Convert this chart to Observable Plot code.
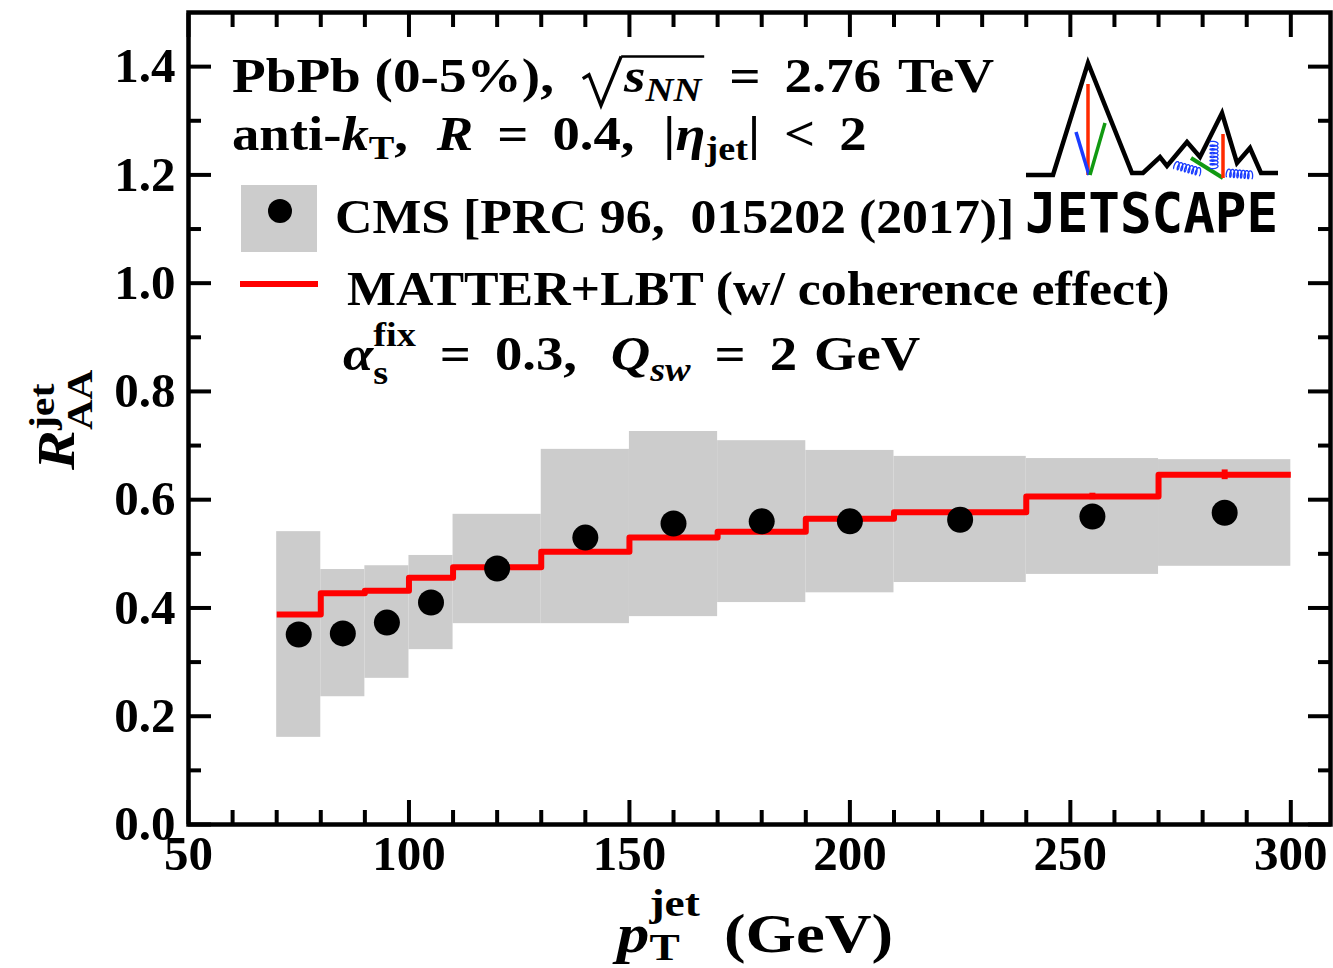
<!DOCTYPE html>
<html><head><meta charset="utf-8">
<script src="https://cdn.jsdelivr.net/npm/d3@7"></script>
<script src="https://cdn.jsdelivr.net/npm/@observablehq/plot@0.6"></script>
<style>html,body{margin:0;padding:0;background:#fff} svg{display:block}</style>
</head><body><div id="chart"></div>
<script>
// ---- data ----
const binLo   = [70, 80, 90, 100, 110, 130, 150, 170, 190, 210, 240, 270];
const binHi   = [80, 90, 100, 110, 130, 150, 170, 190, 210, 240, 270, 300];
const cmsX    = [75, 85, 95, 105, 120, 140, 160, 180, 200, 225, 255, 285];
const cmsY    = [0.351, 0.353, 0.373, 0.410, 0.473, 0.530, 0.556, 0.560, 0.560, 0.563, 0.569, 0.576];
const sysLow  = [0.161, 0.236, 0.270, 0.323, 0.371, 0.371, 0.384, 0.410, 0.428, 0.447, 0.462, 0.477];
const sysHigh = [0.541, 0.471, 0.478, 0.497, 0.573, 0.693, 0.726, 0.709, 0.691, 0.680, 0.676, 0.674];
const modelY  = [0.388, 0.427, 0.432, 0.456, 0.475, 0.504, 0.530, 0.541, 0.565, 0.577, 0.606, 0.646];
const modelErr= [0.002, 0.002, 0.002, 0.002, 0.002, 0.002, 0.002, 0.003, 0.003, 0.004, 0.006, 0.009];
const xMajor  = [50, 100, 150, 200, 250, 300];
const xMinor  = [60, 70, 80, 90, 110, 120, 130, 140, 160, 170, 180, 190, 210, 220, 230, 240, 260, 270, 280, 290];
const yMajor  = [0, 0.2, 0.4, 0.6, 0.8, 1.0, 1.2, 1.4];
const yMinor  = [0.1, 0.3, 0.5, 0.7, 0.9, 1.1, 1.3];

const bins = binLo.map((lo, i) => ({lo, hi: binHi[i], low: sysLow[i], high: sysHigh[i],
  m: modelY[i], e: modelErr[i], x: cmsX[i], y: cmsY[i]}));
const steps = bins.flatMap(b => [{x: b.lo, y: b.m}, {x: b.hi, y: b.m}]);

const TW = 4; // tick stroke
const ticks = [];
for (const a of ["bottom", "top"]) {
  ticks.push(Plot.axisX(xMinor, {anchor: a, tickSize: -14, fill: "none", strokeWidth: TW, label: null}));
  ticks.push(Plot.axisX(xMajor, {anchor: a, tickSize: -24, fill: "none", strokeWidth: TW, label: null}));
}
for (const a of ["left", "right"]) {
  ticks.push(Plot.axisY(yMinor, {anchor: a, tickSize: -13, fill: "none", strokeWidth: TW, label: null}));
  ticks.push(Plot.axisY(yMajor, {anchor: a, tickSize: -23, fill: "none", strokeWidth: TW, label: null}));
}

const plot = Plot.plot({
  width: 1333, height: 968,
  marginLeft: 188, marginRight: 3, marginTop: 12, marginBottom: 144,
  style: {fontFamily: "'Liberation Serif', serif", fontWeight: "bold", fontSize: "49px", color: "#000", background: "#fff", overflow: "visible"},
  x: {domain: [50, 309], label: null},
  y: {domain: [0, 1.5], label: null},
  marks: [
    Plot.rect(bins, {x1: "lo", x2: "hi", y1: "low", y2: "high", fill: "#cccccc"}),
    Plot.line(steps, {x: "x", y: "y", stroke: "#ff0000", strokeWidth: 6, strokeLinecap: "butt", strokeLinejoin: "round"}),
    Plot.ruleX(bins, {x: "x", y1: d => d.m - d.e, y2: d => d.m + d.e, stroke: "#ff0000", strokeWidth: 6}),
    Plot.dot(bins, {x: "x", y: "y", r: 13, fill: "#000", stroke: null}),
    ...ticks,
    Plot.axisX(xMajor, {anchor: "bottom", tickSize: 0, tickPadding: 11, tickFormat: d => String(d), label: null}),
    Plot.axisY(yMajor, {anchor: "left", tickSize: 0, tickPadding: 13, tickFormat: d3.format(".1f"), label: null}),
    Plot.frame({stroke: "#000", strokeWidth: 4.5})
  ]
});
document.getElementById("chart").appendChild(plot);

// ---- math-style text helper ----
const svg = d3.select(plot);
const ann = svg.append("g").attr("font-family", "'Liberation Serif', serif").attr("font-weight", "bold")
  .attr("fill", "#000").attr("text-anchor", "start");

function mathLine(g, x, y, size, parts, sx = 1.08) {
  let cx = x;
  const put = (txt, px, py, fs, italic) => {
    const t = g.append("text")
      .attr("transform", `translate(${px},${py}) scale(${sx},1)`)
      .attr("text-anchor", "start")
      .attr("font-size", fs)
      .attr("font-style", italic ? "italic" : null)
      .style("white-space", "pre")
      .text(txt);
    return t.node().getComputedTextLength() * sx;
  };
  let radStart = null;
  for (const p of parts) {
    if (p.sp != null) { cx += p.sp * size; continue; }
    if (p.rad) {
      const s = size;
      g.append("path").attr("fill", "none").attr("stroke", "#000").attr("stroke-width", 0.07 * s)
        .attr("stroke-linejoin", "miter")
        .attr("d", `M${cx},${y - 0.28 * s} L${cx + 0.13 * s},${y - 0.36 * s} L${cx + 0.38 * s},${y + 0.28 * s} L${cx + 0.8 * s},${y - 0.74 * s}`);
      radStart = cx + 0.8 * s;
      cx = radStart + 0.06 * s;
      continue;
    }
    if (p.radEnd) {
      g.append("line").attr("x1", radStart).attr("x2", cx + 0.06 * size)
        .attr("y1", y - 0.74 * size).attr("y2", y - 0.74 * size)
        .attr("stroke", "#000").attr("stroke-width", 0.055 * size);
      cx += 0.08 * size;
      continue;
    }
    if (p.t != null) cx += put(p.t, cx, y, size * (p.s || 1), p.i);
    if (p.sup != null || p.sub != null) {
      let w = 0;
      const ss = size * 0.7;
      if (p.sup != null) w = Math.max(w, put(p.sup, cx + (p.supdx || 0) * size, y - (p.supy ?? 0.45) * size, ss, p.supi));
      if (p.sub != null) w = Math.max(w, put(p.sub, cx + (p.subdx || 0) * size, y + (p.suby ?? 0.2) * size, ss, p.subi));
      cx += w;
    }
  }
  return cx;
}

const TS = 48;
const REL = 0.5; // space around relations
mathLine(ann, 232, 92, TS, [
  {t: "PbPb (0-5%),"}, {sp: 0.6}, {rad: true}, {t: "s", i: true}, {sub: "NN", subi: true, suby: 0.18}, {radEnd: true},
  {sp: REL}, {t: "="}, {sp: REL}, {t: "2.76"}, {sp: 0.35}, {t: "TeV"}
], 1.15);
mathLine(ann, 232, 150, TS, [
  {t: "anti-"}, {t: "k", i: true}, {sub: "T", suby: 0.18}, {t: ","}, {sp: 0.6}, {t: "R", i: true},
  {sp: REL}, {t: "="}, {sp: REL}, {t: "0.4,"}, {sp: 0.6},
  {t: "|"}, {t: "η", i: true}, {sub: "jet", suby: 0.2}, {t: "|"}, {sp: REL}, {t: "<"}, {sp: REL}, {t: "2"}
], 1.14);

// legend
ann.append("rect").attr("x", 241).attr("y", 185).attr("width", 76).attr("height", 67).attr("fill", "#cccccc");
ann.append("circle").attr("cx", 280).attr("cy", 211).attr("r", 12).attr("fill", "#000");
mathLine(ann, 335, 233, TS, [{t: "CMS [PRC 96,  015202 (2017)]"}]);
ann.append("line").attr("x1", 240).attr("x2", 318).attr("y1", 284).attr("y2", 284).attr("stroke", "#ff0000").attr("stroke-width", 6);
mathLine(ann, 347, 305, TS, [{t: "MATTER+LBT (w/ coherence effect)"}]);
mathLine(ann, 343, 370, TS, [
  {t: "α", i: true}, {sup: "fix", sub: "s", supy: 0.5, suby: 0.3}, {sp: REL}, {t: "="}, {sp: REL}, {t: "0.3,"}, {sp: 0.7},
  {t: "Q", i: true}, {sub: "sw", subi: true, suby: 0.22}, {sp: REL}, {t: "="}, {sp: REL}, {t: "2"}, {sp: 0.35}, {t: "GeV"}
], 1.14);

// axis titles
mathLine(ann, 617, 952, 54, [
  {t: "p", i: true}, {sup: "jet", sub: "T", supy: 0.66, suby: 0.14}, {sp: 0.45}, {t: "(GeV)"}
], 1.2);
const yl = ann.append("g").attr("transform", "translate(74,470) rotate(-90)");
mathLine(yl, 0, 0, 52, [{t: "R", i: true}, {sup: "jet", sub: "AA", supy: 0.38, suby: 0.35}], 1.15);

// ---- JETSCAPE logo ----
const logo = svg.append("g").attr("text-anchor", "start");
const mountain = [[1026,175],[1053,175],[1088,63],[1132,173],[1143,173],[1160,157],[1167,166],[1187,142],[1200,157],[1222,113],[1237,163],[1250,148],[1261,173],[1278,173]];
logo.append("path").attr("d", d3.line()(mountain)).attr("fill", "none").attr("stroke", "#000").attr("stroke-width", 4.5).attr("stroke-linejoin", "miter");
const seg = (x1, y1, x2, y2, c, w) => logo.append("line").attr("x1", x1).attr("y1", y1).attr("x2", x2).attr("y2", y2).attr("stroke", c).attr("stroke-width", w);
seg(1088, 84, 1088, 175, "#ff2a00", 3.5);
seg(1076, 132, 1089, 175, "#1a3cff", 3.5);
seg(1105, 123, 1090, 175, "#119911", 3.5);
seg(1191, 158, 1223, 178, "#119911", 4);
seg(1223, 134, 1223, 178, "#ff2a00", 3.5);
function spring(x1, y1, x2, y2, n, a, b) {
  const L = Math.hypot(x2 - x1, y2 - y1), ux = (x2 - x1) / L, uy = (y2 - y1) / L, px = -uy, py = ux;
  const pts = [];
  for (let k = 0; k <= 300; k++) {
    const t = k / 300, ph = 2 * Math.PI * n * t;
    const along = t * L - b * Math.sin(ph), across = a * Math.cos(ph);
    pts.push([x1 + ux * along + px * across, y1 + uy * along + py * across]);
  }
  logo.append("path").attr("d", d3.line()(pts)).attr("fill", "none").attr("stroke", "#1a3cff").attr("stroke-width", 1.3);
}
spring(1175, 165, 1200, 172, 7, 4, 1.5);
spring(1214, 142, 1214, 168, 7, 4, 1.5);
spring(1227, 173, 1252, 175, 7, 4, 1.5);
logo.append("text").attr("x", 1025).attr("y", 232).attr("text-anchor", "start").attr("font-family", "'DejaVu Sans Mono', monospace").attr("font-weight", "bold")
  .attr("font-size", 56).attr("textLength", 253).attr("lengthAdjust", "spacingAndGlyphs").attr("fill", "#000").text("JETSCAPE");
</script>
</body></html>
